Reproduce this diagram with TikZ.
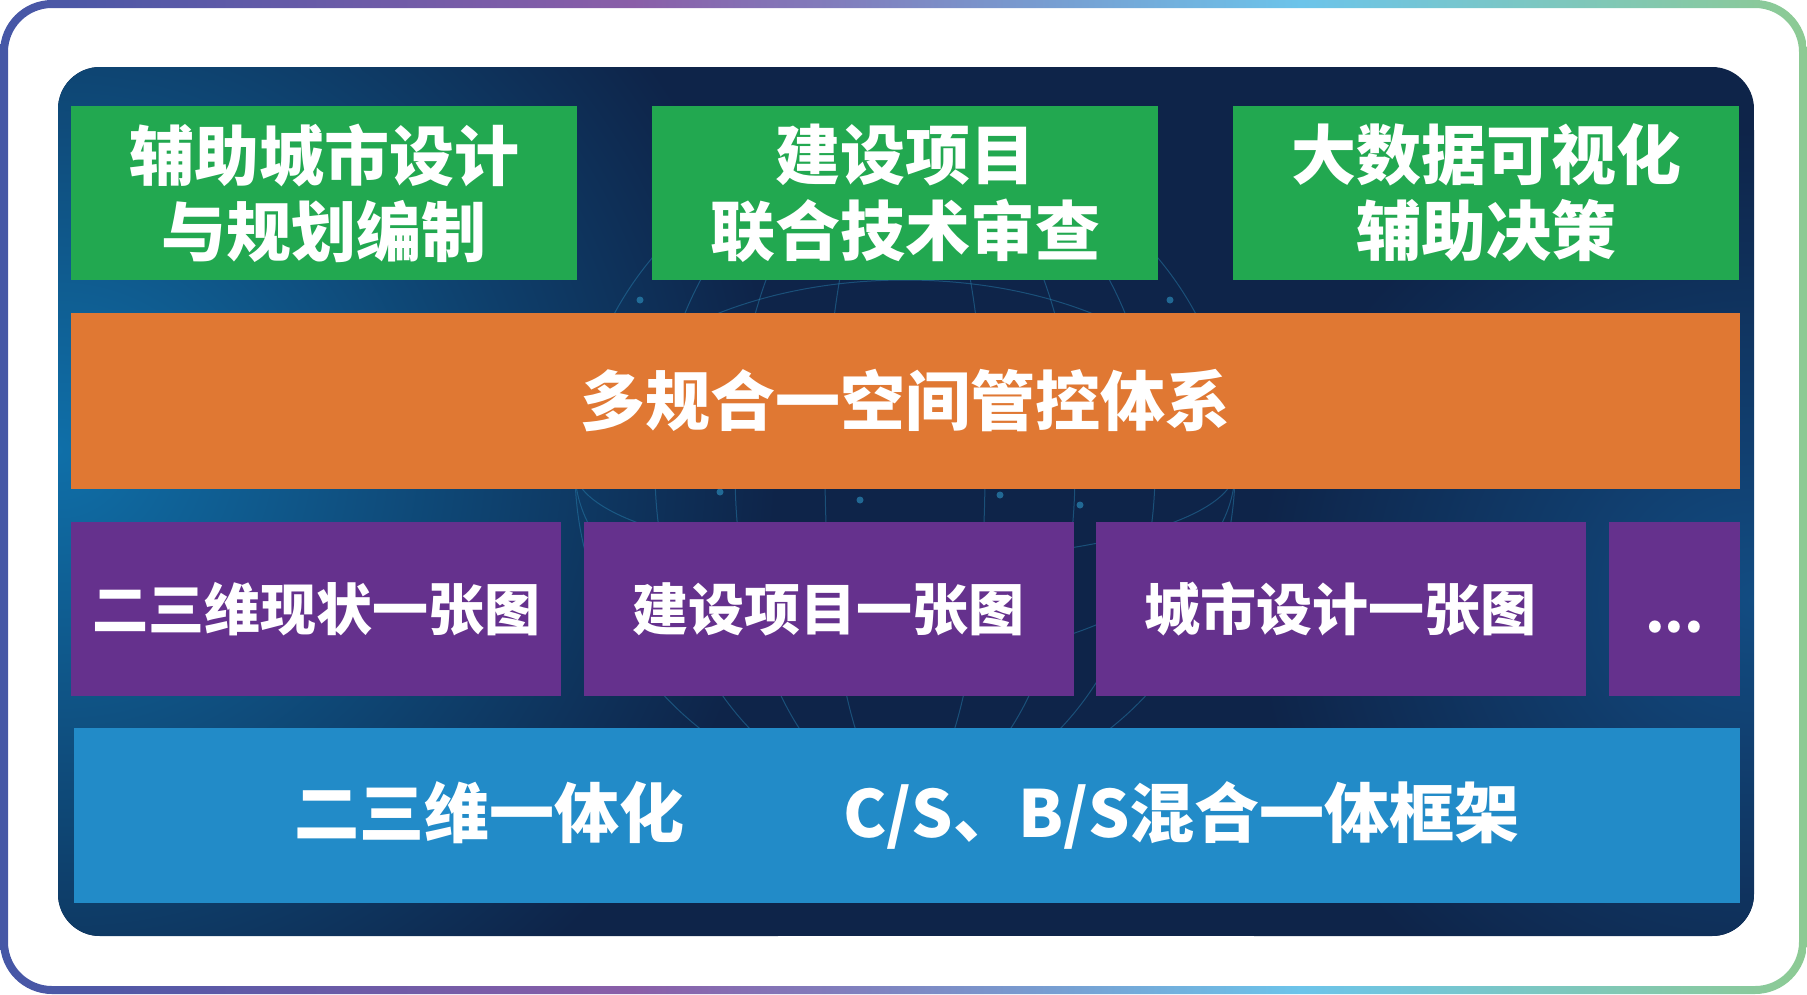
\documentclass[tikz,border=0pt]{standalone}
\usepackage{fontspec}
\newfontfamily\cjk{Noto Sans CJK SC}
\usetikzlibrary{positioning}
\definecolor{frameA}{HTML}{4557A6}
\definecolor{frameB}{HTML}{8A5EA8}
\definecolor{frameC}{HTML}{6CC4EA}
\definecolor{frameD}{HTML}{8DCA93}
\definecolor{panelL}{HTML}{0F6FA8}
\definecolor{panelR}{HTML}{124C82}
\definecolor{panelD}{HTML}{0E2449}
\definecolor{netline}{HTML}{2A86B4}
\definecolor{appgreen}{HTML}{22A850}
\definecolor{coreorange}{HTML}{E07833}
\definecolor{mappurple}{HTML}{65318D}
\definecolor{baseblue}{HTML}{228BC8}
\pgfdeclarehorizontalshading{frameshade}{100bp}{color(0bp)=(frameA); color(25bp)=(frameA); color(42.5bp)=(frameB); color(61bp)=(frameC); color(75bp)=(frameD); color(100bp)=(frameD)}
\tikzstyle{layer} = [rectangle, text=white, inner sep=0pt, align=center]
\tikzstyle{appbox} = [layer, fill=appgreen, minimum width=506pt, minimum height=174pt,
    font=\cjk\bfseries\fontsize{65pt}{76pt}\selectfont]
\tikzstyle{corebox} = [layer, fill=coreorange, minimum width=1669pt, minimum height=176pt,
    font=\cjk\bfseries\fontsize{65pt}{76pt}\selectfont]
\tikzstyle{mapbox} = [layer, fill=mappurple, minimum width=490pt, minimum height=174pt,
    font=\cjk\bfseries\fontsize{56pt}{66pt}\selectfont]
\tikzstyle{basebox} = [layer, fill=baseblue, minimum width=1666pt, minimum height=175pt,
    font=\cjk\bfseries\fontsize{65pt}{76pt}\selectfont]
\tikzstyle{net} = [draw=netline, line width=1pt, opacity=0.45]

\begin{document}
\begin{tikzpicture}[x=1pt, y=-1pt, node distance=581pt]
    \useasboundingbox (0,0) rectangle (1807,994);
    % Frame and panel
    \shade [shading=frameshade, even odd rule] [rounded corners=52pt] (0,0) rectangle (1807,994)
        [rounded corners=44pt] (8,8) rectangle (1799,986);
    \begin{scope}
        \clip [rounded corners=42pt] (58,67) rectangle (1754,936);
        \fill [panelD] (58,67) rectangle (1754,936);
        \shade [inner color=panelL, outer color=panelD] (-662,-230) rectangle (778,1130);
        \shade [inner color=panelR, outer color=panelD] (1254,130) rectangle (2254,1070);
        % globe behind the boxes
        \draw [net] (905,470) circle (330);
        \foreach \r in {80,170,250} \draw [net] (905,470) ellipse ({\r} and 330);
        \foreach \r in {90,190} \draw [net] (905,470) ellipse (330 and {\r});
        \foreach \p in {(700,215),(790,200),(905,190),(1010,205),(1100,220),(720,492),(860,500),(1000,495),(1080,505),(640,300),(1170,300)}
            \fill [netline, opacity=0.7] \p circle (3.5);
    \end{scope}

    % Place nodes
    \node [appbox] (urban) at (324,193) {辅助城市设计\\与规划编制};
    \node [appbox, right of=urban] (review) {建设项目\\联合技术审查};
    \node [appbox, right of=review] (decide) {大数据可视化\\辅助决策};
    \node [corebox, below of=review, node distance=208pt] (core) {多规合一空间管控体系};
    \node [mapbox] (status) at (316,609) {二三维现状一张图};
    \node [mapbox, right of=status, node distance=512.5pt] (project) {建设项目一张图};
    \node [mapbox, right of=project, node distance=512pt] (design) {城市设计一张图};
    \node [mapbox, minimum width=131pt, right of=design, node distance=334pt,
        text height=46pt, text depth=0pt] (more) {...};
    \node [basebox, below of=core, node distance=414.5pt, xshift=2pt] (base)
        {二三维一体化\hspace{159pt}C/S、B/S混合一体框架};
\end{tikzpicture}
\end{document}
